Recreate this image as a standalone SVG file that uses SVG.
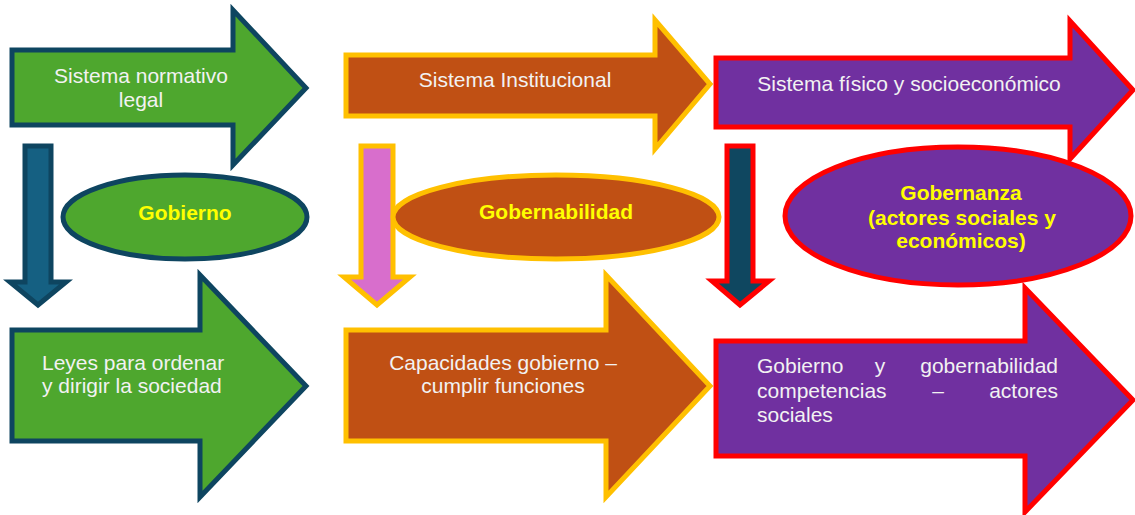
<svg xmlns="http://www.w3.org/2000/svg" width="1135" height="515" viewBox="0 0 1135 515">
<style>
.g{fill:#4EA72E;stroke:#0E4560;stroke-width:5;stroke-linejoin:miter}
.o{fill:#C05014;stroke:#FFC000;stroke-width:5;stroke-linejoin:miter}
.p{fill:#7030A0;stroke:#FF0000;stroke-width:5;stroke-linejoin:miter}
.d1{fill:#156082;stroke:#0E4560;stroke-width:5}
.d2{fill:#D86ECC;stroke:#FFC000;stroke-width:5}
.d3{fill:#0F4760;stroke:#FF0000;stroke-width:5}
.t{font-family:"Liberation Sans",Arial,sans-serif;font-size:21px;fill:#F2F2F2}
.b{font-family:"Liberation Sans",Arial,sans-serif;font-size:21px;font-weight:bold;fill:#FFFF00;text-anchor:middle}
.c{text-anchor:middle}
</style>
<g id="connectors">
<path class="d1" d="M25,146 H51 V282 H66 L38,305 L10,282 H25 Z"/>
<path class="d2" d="M361,146 H393 V277 H410 L377,305 L344,277 H361 Z"/>
<path class="d3" d="M727,146 H753 V281 H769 L740,305 L712,281 H727 Z"/>
</g>
<g id="gobierno">
<ellipse class="g" cx="185" cy="217" rx="122" ry="42"/>
<text class="b" x="185" y="220">Gobierno</text>
</g>
<g id="gobernabilidad">
<ellipse class="o" cx="556" cy="217" rx="163" ry="42"/>
<text class="b" x="556" y="219">Gobernabilidad</text>
</g>
<g id="gobernanza">
<ellipse class="p" cx="958" cy="216" rx="173" ry="69"/>
<text class="b" x="961" y="200">Gobernanza</text>
<text class="b" x="962" y="225">(actores sociales y</text>
<text class="b" x="961" y="248">económicos)</text>
</g>
<g id="sistema-normativo">
<path class="g" d="M12,50 H233 V10 L306,88 L233,165 V125 H12 Z"/>
<text class="t c" x="141" y="83">Sistema normativo</text>
<text class="t c" x="141" y="107">legal</text>
</g>
<g id="sistema-institucional">
<path class="o" d="M346,55 H655 V20 L710,84 L655,149 V116 H346 Z"/>
<text class="t c" x="515" y="87">Sistema Institucional</text>
</g>
<g id="sistema-fisico">
<path class="p" d="M716,58 H1070 V21 L1133,90 L1070,159 V127 H716 Z"/>
<text class="t c" x="909" y="91">Sistema físico y socioeconómico</text>
</g>
<g id="leyes">
<path class="g" d="M12,330 H200 V275 L306,386 L200,497 V441 H12 Z"/>
<text class="t" x="42" y="370">Leyes para ordenar</text>
<text class="t" x="42" y="393">y dirigir la sociedad</text>
</g>
<g id="capacidades">
<path class="o" d="M346,330 H606 V275 L710,386 L606,497 V441 H346 Z"/>
<text class="t c" x="503" y="370">Capacidades gobierno –</text>
<text class="t c" x="503" y="393">cumplir funciones</text>
</g>
<g id="competencias">
<path class="p" d="M716,341 H1025 V288 L1133,400 L1025,512 V456 H716 Z"/>
<text class="t" x="757" y="373">Gobierno</text>
<text class="t c" x="880" y="373">y</text>
<text class="t" x="1058" y="373" style="text-anchor:end">gobernabilidad</text>
<text class="t" x="757" y="398">competencias</text>
<text class="t c" x="938" y="398">–</text>
<text class="t" x="1058" y="398" style="text-anchor:end">actores</text>
<text class="t" x="757" y="422">sociales</text>
</g>
</svg>
